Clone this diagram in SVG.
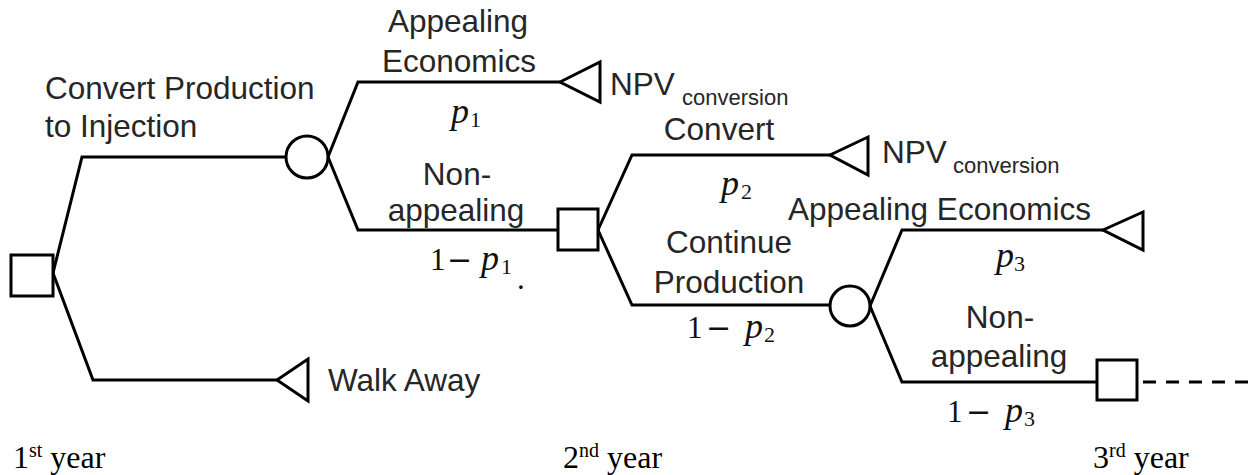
<svg xmlns="http://www.w3.org/2000/svg" width="1254" height="475" viewBox="0 0 1254 475">
<style>
.ln{fill:none;stroke:#000;stroke-width:3;stroke-linejoin:miter}
.nd{fill:#fff;stroke:#000;stroke-width:3}
.t{font-family:"Liberation Sans",Arial,sans-serif;font-size:31.5px;fill:#262626}
.sub{font-size:22px}
.m{font-family:"Liberation Serif","Times New Roman",serif;font-size:31px;fill:#111}
.mi{font-style:italic;font-size:36px}
.mm{font-family:"DejaVu Sans",sans-serif;font-size:30px}
.ms{font-size:22px}
.y{font-family:"Liberation Serif","Times New Roman",serif;font-size:32px;fill:#000}
.sup{font-size:20px}
</style>
<g id="connectors">
<path class="ln" d="M53,273 L82,157 L286,157"/>
<path class="ln" d="M53,273 L93,380 L277,380"/>
<path class="ln" d="M328,157 L358,82 L560,82"/>
<path class="ln" d="M328,157 L358,230 L558,230"/>
<path class="ln" d="M598,230 L632,155 L830,155"/>
<path class="ln" d="M598,230 L632,305 L830,305"/>
<path class="ln" d="M870,306 L902,230 L1103,230"/>
<path class="ln" d="M870,306 L902,382 L1097,382"/>
<path class="ln" d="M1143,382 L1250,382" stroke-dasharray="13 10"/>
</g>
<g id="root"><rect class="nd" x="11" y="255" width="42" height="41"/></g>
<g id="chance1"><circle class="nd" cx="307" cy="157" r="21"/></g>
<g id="walkaway"><path class="nd" d="M277,380 L308,359 L308,401 Z"/></g>
<g id="end1"><path class="nd" d="M560,82 L600,62 L600,102 Z"/></g>
<g id="decision2"><rect class="nd" x="558" y="209" width="40" height="41"/></g>
<g id="end2"><path class="nd" d="M830,155 L868,137 L868,175 Z"/></g>
<g id="chance2"><circle class="nd" cx="850" cy="306" r="20"/></g>
<g id="end3"><path class="nd" d="M1103,230 L1143,212 L1143,250 Z"/></g>
<g id="decision3"><rect class="nd" x="1097" y="360" width="40" height="40"/></g>
<g id="labels">
<text class="t" x="45" y="99">Convert Production</text>
<text class="t" x="45" y="137">to Injection</text>
<text class="t" x="458" y="32" text-anchor="middle">Appealing</text>
<text class="t" x="459" y="72" text-anchor="middle">Economics</text>
<text class="t" x="610" y="95">NPV</text>
<text class="t sub" x="682" y="105">conversion</text>
<text class="m" y="123"><tspan class="mi" x="451">p</tspan><tspan class="ms" x="470" dy="4">1</tspan></text>
<text class="t" x="457" y="185" text-anchor="middle">Non-</text>
<text class="t" x="456" y="221" text-anchor="middle">appealing</text>
<text class="m" y="270"><tspan x="430">1</tspan><tspan class="mm" x="447">−</tspan><tspan class="mi" x="481">p</tspan><tspan class="ms" x="501" dy="4">1</tspan></text>
<text class="m" x="517" y="289" font-size="14">.</text>
<text class="t" x="719" y="140" text-anchor="middle">Convert</text>
<text class="t" x="882" y="163">NPV</text>
<text class="t sub" x="953" y="173">conversion</text>
<text class="m" y="195"><tspan class="mi" x="721">p</tspan><tspan class="ms" x="741" dy="4">2</tspan></text>
<text class="t" x="788" y="220">Appealing Economics</text>
<text class="t" x="729" y="253" text-anchor="middle">Continue</text>
<text class="t" x="729" y="293" text-anchor="middle">Production</text>
<text class="m" y="338"><tspan x="687">1</tspan><tspan class="mm" x="706">−</tspan><tspan class="mi" x="745">p</tspan><tspan class="ms" x="764" dy="4">2</tspan></text>
<text class="m" y="267"><tspan class="mi" x="996">p</tspan><tspan class="ms" x="1014" dy="4">3</tspan></text>
<text class="t" x="1000" y="328" text-anchor="middle">Non-</text>
<text class="t" x="999" y="367" text-anchor="middle">appealing</text>
<text class="m" y="422"><tspan x="947">1</tspan><tspan class="mm" x="966">−</tspan><tspan class="mi" x="1005">p</tspan><tspan class="ms" x="1024" dy="4">3</tspan></text>
<text class="t" x="328" y="391">Walk Away</text>
<text class="y" y="468"><tspan x="13">1</tspan><tspan class="sup" dy="-11">st</tspan><tspan dy="11"> year</tspan></text>
<text class="y" y="468"><tspan x="563">2</tspan><tspan class="sup" dy="-11">nd</tspan><tspan dy="11"> year</tspan></text>
<text class="y" y="468"><tspan x="1093">3</tspan><tspan class="sup" dy="-11">rd</tspan><tspan dy="11"> year</tspan></text>
</g>
</svg>
